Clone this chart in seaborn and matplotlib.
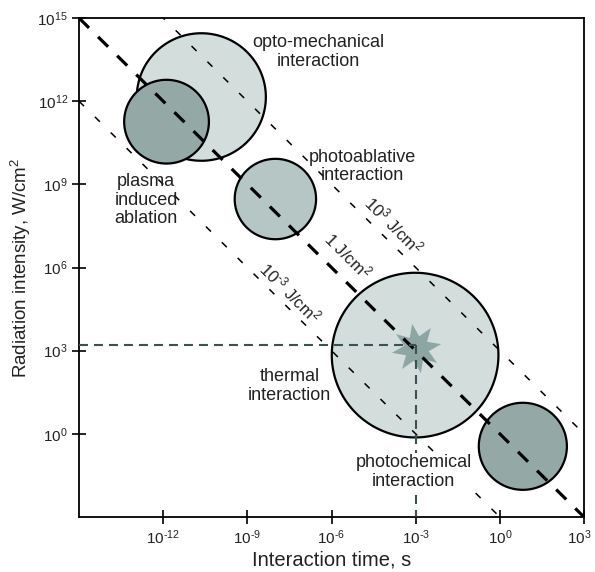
import numpy as np
import pandas as pd
import matplotlib
matplotlib.use("Agg")
import matplotlib.pyplot as plt
import matplotlib.transforms as mtransforms
import seaborn as sns

# ---------------- data ----------------
# circles: log10 centre (time, intensity), radius in decades
region_names = ["opto-mechanical", "plasma", "photoablative", "thermal", "photochemical"]
region_log_t = [-10.64, -11.88, -8.0, -3.02, 0.82]
region_log_i = [12.15, 11.26, 8.47, 2.84, -0.45]
region_radius = [2.3, 1.51, 1.45, 2.97, 1.57]

region_labels = ["opto-mechanical\ninteraction", "plasma\ninduced\nablation",
                 "photoablative\ninteraction", "thermal\ninteraction",
                 "photochemical\ninteraction"]
label_log_t = [-6.46, -12.61, -4.89, -7.5, -3.07]
label_log_i = [13.78, 8.42, 9.64, 1.73, -1.37]

# fluence lines (J/cm^2)
fluences = [1e3, 1.0, 1e-3]
fluence_labels = ["10$^3$ J/cm$^2$", "1 J/cm$^2$", "10$^{\\text{-}3}$ J/cm$^2$"]
fluence_label_log_t = [-3.79, -5.43, -7.46]
fluence_label_log_i = [7.52, 6.44, 5.11]

# marked operating point
point_t = 1e-3
point_i = 10 ** 3.2
star_i = 10 ** 3.08

x_ticks = [1e-12, 1e-9, 1e-6, 1e-3, 1e0, 1e3]
x_ticklabels = ["10$^{\\text{-}12}$", "10$^{\\text{-}9}$", "10$^{\\text{-}6}$",
                "10$^{\\text{-}3}$", "10$^{0}$", "10$^{3}$"]
y_ticks = [1e0, 1e3, 1e6, 1e9, 1e12, 1e15]
y_ticklabels = ["10$^{0}$", "10$^{3}$", "10$^{6}$", "10$^{9}$", "10$^{12}$", "10$^{15}$"]

# ---------------- style ----------------
sns.set_style("ticks")
plt.rcParams['font.family'] = ['Liberation Sans', 'DejaVu Sans']
plt.rcParams['mathtext.fontset'] = 'custom'
plt.rcParams['mathtext.rm'] = 'Liberation Sans'
plt.rcParams['mathtext.it'] = 'Liberation Sans:italic'

fig = plt.figure(figsize=(5.95, 5.72), dpi=100)
ax = fig.add_axes([79 / 595, 1 - 517 / 572, (584 - 79) / 595, (517 - 18) / 572])
ax.set_xscale("log")
ax.set_yscale("log")
ax.set_xlim(1e-15, 1e3)
ax.set_ylim(1e-3, 1e15)

fill_colors = {"opto-mechanical": "#d2dddc", "plasma": "#94a9a5",
               "photoablative": "#b5c6c4", "thermal": "#d2dddc",
               "photochemical": "#94a9a5"}

theta = np.linspace(0, 2 * np.pi, 400)
for name, cx, cy, r in zip(region_names, region_log_t, region_log_i, region_radius):
    xs = 10 ** (cx + r * np.cos(theta))
    ys = 10 ** (cy + r * np.sin(theta))
    ax.fill(xs, ys, facecolor=fill_colors[name], edgecolor="black", lw=1.6, zorder=2)

# fluence lines
t = np.logspace(-15, 3, 200)
for F in fluences:
    df = pd.DataFrame({"t": t, "I": F / t})
    if F == 1.0:
        sns.lineplot(data=df, x="t", y="I", ax=ax, color="black", lw=2.3,
                     linestyle=(0, (4.4, 4.0)), zorder=4, sort=False, estimator=None)
    else:
        sns.lineplot(data=df, x="t", y="I", ax=ax, color="black", lw=1.1,
                     linestyle=(0, (4.6, 10)), zorder=4, sort=False, estimator=None)

# operating point guide lines
slate = "#3a5252"
ax.plot([1e-15, point_t], [point_i, point_i], color=slate, lw=1.5,
        linestyle=(0, (4.3, 2.9)), zorder=5)
ax.plot([point_t, point_t], [point_i, 1e-3], color=slate, lw=1.5,
        linestyle=(0, (4.3, 2.9)), zorder=5)
ax.plot([point_t], [star_i], marker=(8, 1, 10), ms=36, color="#8ea6a2",
        mec="none", zorder=3)

# labels
for lab, lx, ly in zip(region_labels, label_log_t, label_log_i):
    bbox = None
    if lab.startswith("photochemical"):
        bbox = dict(facecolor="white", edgecolor="none", pad=0.5)
    ax.text(10 ** lx, 10 ** ly, lab, ha="center", va="center", fontsize=13,
            color="#222222", linespacing=1.12, zorder=6, bbox=bbox)
for lab, lx, ly in zip(fluence_labels, fluence_label_log_t, fluence_label_log_i):
    ax.text(10 ** lx, 10 ** ly, lab, ha="center", va="center", fontsize=12,
            color="#222222", rotation=-45, rotation_mode="anchor", zorder=6)

ax.set_xticks(x_ticks)
ax.set_xticklabels(x_ticklabels)
ax.set_yticks(y_ticks)
ax.set_yticklabels(y_ticklabels)
ax.minorticks_off()
ax.tick_params(axis="both", which="major", direction="inout", length=10,
               width=1.2, labelsize=11, pad=3, color="black", labelcolor="#222222")
for s in ax.spines.values():
    s.set_linewidth(1.3)
    s.set_color("black")

# keep the last x tick label inside the figure
last = ax.get_xticklabels()[-1]
last.set_transform(last.get_transform() +
                   mtransforms.ScaledTranslation(-5 / 100, 0, fig.dpi_scale_trans))

ax.set_xlabel("Interaction time, s", fontsize=14.5, color="#222222", labelpad=3)
ax.set_ylabel("Radiation intensity, W/cm$^2$", fontsize=13.5, color="#222222", labelpad=3)

fig.savefig("out.png", dpi=100)
